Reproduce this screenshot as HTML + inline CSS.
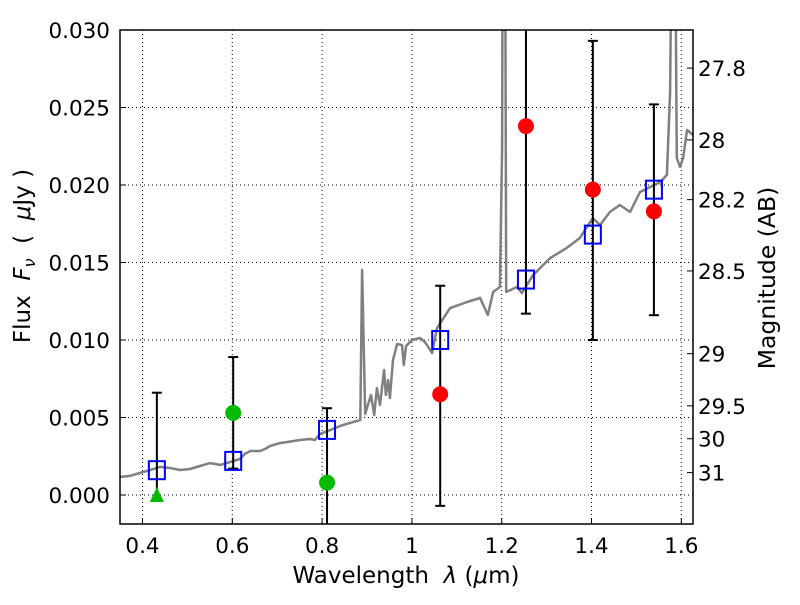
<!DOCTYPE html>
<html><head><meta charset="utf-8"><style>
body{margin:0;background:#fff}
svg text{font-family:"DejaVu Sans","Liberation Sans",sans-serif;fill:#000}
</style></head><body>
<svg id="chart" width="800" height="600">
<defs><clipPath id="clip"><rect x="120" y="30" width="573" height="494"/></clipPath></defs>
<rect x="0" y="0" width="800" height="600" fill="#fff"/>
<g id="grid"></g>
<g id="marks" clip-path="url(#clip)"></g>
<rect x="120" y="30" width="573" height="494" fill="none" stroke="#000" stroke-width="1.5"/>
<g id="axes"></g>
<text x="406" y="583" text-anchor="middle" font-size="23" xml:space="preserve">Wavelength  <tspan font-style="italic">λ</tspan> (<tspan font-style="italic">μ</tspan>m)</text>
<text transform="translate(30,256) rotate(-90)" text-anchor="middle" font-size="23" xml:space="preserve">Flux  <tspan font-style="italic">F</tspan><tspan font-style="italic" font-size="16" dy="5">ν</tspan><tspan dy="-5">  (  </tspan><tspan font-style="italic">μ</tspan>Jy )</text>
<text transform="translate(775,278) rotate(-90)" text-anchor="middle" font-size="23.5">Magnitude (AB)</text>
</svg>
<script>
const specWave=[0.350,0.372,0.394,0.417,0.439,0.461,0.484,0.506,0.528,0.550,0.573,0.595,0.617,0.628,0.640,0.662,0.673,0.684,0.706,0.751,0.773,0.784,0.795,0.818,0.840,0.862,0.885,0.889,0.896,0.902,0.909,0.916,0.922,0.929,0.938,0.942,0.947,0.951,0.958,0.967,0.978,0.982,0.987,1.000,1.018,1.029,1.045,1.056,1.085,1.123,1.152,1.169,1.181,1.196,1.201,1.203,1.207,1.210,1.234,1.245,1.270,1.308,1.345,1.374,1.403,1.419,1.441,1.463,1.486,1.508,1.553,1.568,1.575,1.579,1.586,1.590,1.597,1.604,1.613,1.626];
const specFlux=[0.00116,0.00123,0.00142,0.00161,0.00181,0.00174,0.00161,0.00168,0.00187,0.00206,0.00194,0.00213,0.00232,0.00265,0.00284,0.00284,0.00297,0.00316,0.00335,0.00355,0.00361,0.00355,0.00394,0.00419,0.00445,0.00465,0.00484,0.01452,0.00523,0.00581,0.00645,0.00516,0.00690,0.00581,0.00806,0.00645,0.00742,0.00626,0.00871,0.00974,0.00968,0.00839,0.00961,0.01000,0.01013,0.00987,0.00916,0.01077,0.01206,0.01245,0.01271,0.01161,0.01310,0.01342,0.0223,0.045,0.045,0.01310,0.01342,0.01303,0.01419,0.01529,0.01594,0.01658,0.01787,0.01742,0.01826,0.01871,0.01826,0.01955,0.02019,0.02065,0.0260,0.038,0.038,0.02174,0.02116,0.02174,0.02355,0.02323];
const filterWave=[0.432,0.602,0.811,1.063,1.254,1.403,1.539];
const modelFlux=[0.0016,0.0022,0.0042,0.0100,0.0139,0.0168,0.0197];
const errLow=[-0.0002,0.0017,-0.004,-0.0007,0.0117,0.0100,0.0116];
const errHigh=[0.0066,0.0089,0.0056,0.0135,0.035,0.0293,0.0252];
const errCapTop=[true,true,true,true,false,true,true];
const errCapBottom=[true,true,false,true,true,true,true];
const obsWave=[0.602,0.811,1.063,1.254,1.403,1.539];
const obsFlux=[0.0053,0.0008,0.0065,0.0238,0.0197,0.0183];
const obsColor=['#00bb00','#00bb00','red','red','red','red'];
const triWave=[0.432];
const triFlux=[0.0];
const xTicks=[0.4,0.6,0.8,1.0,1.2,1.4,1.6];
const xTickLabels=['0.4','0.6','0.8','1','1.2','1.4','1.6'];
const yTicks=[0,0.005,0.010,0.015,0.020,0.025,0.030];
const yTickLabels=['0.000','0.005','0.010','0.015','0.020','0.025','0.030'];
const magTicks=[27.8,28,28.2,28.5,29,29.5,30,31];
const magTickLabels=['27.8','28','28.2','28.5','29','29.5','30','31'];

const X=w=>142.5+(w-0.4)*449;
const Y=f=>495-f*15500;
const NS='http://www.w3.org/2000/svg';
function mk(tag,attrs,parent){const e=document.createElementNS(NS,tag);for(const k in attrs)e.setAttribute(k,attrs[k]);parent.appendChild(e);return e;}
const grid=document.getElementById('grid'),marks=document.getElementById('marks'),axes=document.getElementById('axes');

xTicks.forEach((t,i)=>{
 const g=mk('line',{x1:X(t),x2:X(t),y1:30,y2:524,stroke:'#000','stroke-width':1,'stroke-dasharray':'1,3'},grid);
 
 
 const tk=mk('line',{x1:X(t),x2:X(t),y1:524,y2:518,stroke:'#000','stroke-width':1},axes);
 
 
 const tx=mk('text',{x:X(t),y:553,'text-anchor':'middle','font-size':21.5},axes);
 tx.textContent=xTickLabels[i];
 
 
});
yTicks.forEach((t,i)=>{
 const g=mk('line',{x1:120,x2:693,y1:Y(t),y2:Y(t),stroke:'#000','stroke-width':1,'stroke-dasharray':'1,3'},grid);
 
 
 const tk=mk('line',{x1:120,x2:126,y1:Y(t),y2:Y(t),stroke:'#000','stroke-width':1},axes);
 
 
 const tx=mk('text',{x:110,y:Y(t)+8,'text-anchor':'end','font-size':21.5},axes);
 tx.textContent=yTickLabels[i];
 
 
});
magTicks.forEach((m,i)=>{
 const y=Y(Math.pow(10,(23.9-m)/2.5));
 const tk=mk('line',{x1:687,x2:693,y1:y,y2:y,stroke:'#000','stroke-width':1},axes);
 
 
 const tx=mk('text',{x:698,y:y+8,'text-anchor':'start','font-size':21.5},axes);
 tx.textContent=magTickLabels[i];
 
 
});

const pts=specWave.map((w,i)=>X(w).toFixed(1)+','+Y(specFlux[i]).toFixed(1)).join(' ');
const sp=mk('polyline',{points:pts,fill:'none',stroke:'#808080','stroke-width':2.5,'stroke-linejoin':'round'},marks);



filterWave.forEach((w,i)=>{
 const x=X(w);
 const l=mk('line',{x1:x,x2:x,y1:Y(errLow[i]),y2:Y(errHigh[i]),stroke:'#000','stroke-width':2},marks);
 
 
 if(errCapTop[i]){const c=mk('line',{x1:x-5,x2:x+5,y1:Y(errHigh[i]),y2:Y(errHigh[i]),stroke:'#000','stroke-width':2},marks);
 
 }
 if(errCapBottom[i]){const c=mk('line',{x1:x-5,x2:x+5,y1:Y(errLow[i]),y2:Y(errLow[i]),stroke:'#000','stroke-width':2},marks);
 
 }
});
obsWave.forEach((w,i)=>{
 const c=mk('circle',{cx:X(w),cy:Y(obsFlux[i]),r:8,fill:obsColor[i]},marks);
 
 
});
triWave.forEach((w,i)=>{
 const x=X(w),y=Y(triFlux[i]);
 const t=mk('polygon',{points:`${x-7},${y+7} ${x+7},${y+7} ${x},${y-8}`,fill:'#00bb00'},marks);
 
 
});
filterWave.forEach((w,i)=>{
 const s=mk('rect',{x:X(w)-8,y:Y(modelFlux[i])-9,width:16,height:18,fill:'none',stroke:'#0000ff','stroke-width':2},marks);
 
 
});
</script>
</body></html>
